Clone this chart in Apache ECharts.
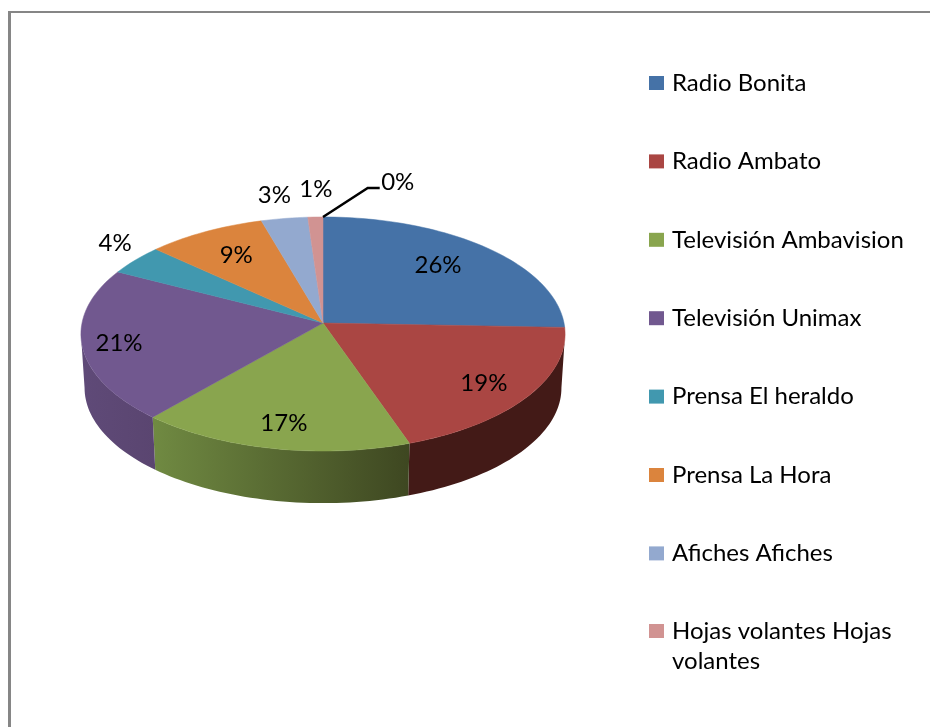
<!DOCTYPE html>
<html>
<head>
<meta charset="utf-8">
<title>Medios</title>
<style>
    html, body { margin: 0; padding: 0; background: #fff; }
    #main { width: 930px; height: 727px; }
</style>
<script src="https://cdn.jsdelivr.net/npm/echarts@6/dist/echarts.min.js"></script>
</head>
<body>
<div id="main"></div>
<script>
const categories = ['Radio Bonita', 'Radio Ambato', 'Televisión Ambavision', 'Televisión Unimax',
    'Prensa El heraldo', 'Prensa La Hora', 'Afiches Afiches', 'Hojas volantes Hojas volantes'];
// read from the slice edges; the ninth slice has a 0% label but no legend row in the picture
const values = [25.6, 19.1, 16.7, 21.2, 4.2, 8.7, 3.4, 1.1, 0];

const topColors = ['#4572A7', '#AA4643', '#89A54E', '#71588F', '#4198AF', '#DB843D', '#93A9CF', '#D19392', '#B9CD96'];
const wallLeft = ['#2c4566', '#431a17', '#708a42', '#5f4a78', '#2a6273', '#8f5526', '#5f6e87', '#885f5f', '#78865f'];
const wallRight = ['#2c4566', '#431a17', '#3e4721', '#5a4570', '#2a6273', '#8f5526', '#5f6e87', '#885f5f', '#78865f'];

// label placement: distance from the centre (1 = rim), and turn from the slice middle in degrees
const labelRadius = [0.725, 0.806, 0.811, 0.85, 1.18, 0.728, 1.25, 1.297, 1.417];
const labelTurn = [-2.4, 1.3, -0.3, -0.7, 3.7, 0.3, -0.3, 0.5, 14.3];

const cx = 323, cy = 323, rx = 241, ry = 116;
const tilt = 0.094;       // near side of the disc looks bigger
const depth = 54, bottomScale = 0.985;
const visibleFrom = 95.4, visibleTo = 264.6;
const fontName = 'Lato';
const fontSize = 24;

const total = values.reduce((a, b) => a + b, 0);

// turn an angle (degrees clockwise from 12 o'clock) into a pixel on the tilted disc
const discPoint = (deg, r) => {
    const a = deg * Math.PI / 180;
    const u = Math.sin(a) * r, v = -Math.cos(a) * r;
    const w = 1 / (1 - tilt * v);
    return [cx + rx * u * w, cy + ry * v * w];
};

const arc = (from, to) => {
    const pts = [];
    const n = Math.max(2, Math.ceil((to - from) / 1.5));
    for (let i = 0; i <= n; i++) pts.push(discPoint(from + (to - from) * i / n, 1));
    return pts;
};

const sliceRender = (i) => (params, api) => {
    const value = api.value(0);
    const before = values.slice(0, i).reduce((a, b) => a + b, 0);
    const start = before / total * 360;
    const end = start + value / total * 360;
    const mid = (start + end) / 2;
    const children = [];

    // side wall, only the part facing the viewer
    const a = Math.max(start, visibleFrom), b = Math.min(end, visibleTo);
    if (b > a) {
        const upper = arc(a, b);
        const lower = upper.map(p => [
            cx + (p[0] - cx) * bottomScale,
            cy + (p[1] - cy) * bottomScale + depth
        ]).reverse();
        children.push({
            type: 'polygon',
            z2: 1,
            shape: {points: upper.concat(lower)},
            style: {
                fill: new echarts.graphic.LinearGradient(0, 0, 1, 0, [
                    {offset: 0, color: wallLeft[i]},
                    {offset: 1, color: wallRight[i]}
                ])
            }
        });
    }

    // top face
    if (value > 0) {
        children.push({
            type: 'polygon',
            z2: 2,
            shape: {points: [[cx, cy]].concat(arc(start, end))},
            style: {fill: topColors[i], stroke: topColors[i], lineWidth: 0.5}
        });
    }

    const at = discPoint(mid + labelTurn[i], labelRadius[i]);
    children.push({
        type: 'text',
        z2: 5,
        x: at[0],
        y: at[1],
        style: {
            text: Math.round(value / total * 100) + '%',
            fontFamily: fontName,
            fontSize: fontSize,
            fill: '#000',
            align: 'center',
            verticalAlign: 'middle'
        }
    });

    // leader line for the slice too thin to carry its label
    if (value === 0) {
        const rim = discPoint(start, 1);
        children.push({
            type: 'polyline',
            z2: 5,
            shape: {points: [rim, [at[0] - 30, at[1] + 6], [at[0] - 18, at[1] + 6]]},
            style: {stroke: '#000', lineWidth: 2.5, fill: null}
        });
    }
    return {type: 'group', children: children};
};

const series = values.map((v, i) => ({
    type: 'custom',
    name: categories[i] || '',
    coordinateSystem: 'none',
    silent: true,
    animation: false,
    itemStyle: {color: topColors[i]},
    renderItem: sliceRender(i),
    data: [v]
}));

const legendText = {fontFamily: fontName, fontSize: fontSize, color: '#000', padding: [0, 0, 0, 3]};

let chart = echarts.init(document.getElementById('main'));
chart.setOption({
    backgroundColor: '#fff',
    animation: false,
    legend: [
        {
            orient: 'vertical',
            left: 649,
            top: 71,
            padding: 0,
            itemWidth: 15,
            itemHeight: 14,
            itemGap: 54.4,
            icon: 'rect',
            selectedMode: false,
            data: categories.slice(0, 7),
            textStyle: {...legendText, lineHeight: 24}
        },
        {
            // swatch sits on the first text line: the leading blank line centres it there
            orient: 'vertical',
            left: 649,
            top: 586,
            padding: 0,
            itemWidth: 15,
            itemHeight: 14,
            icon: 'rect',
            selectedMode: false,
            data: categories.slice(7),
            formatter: () => '\nHojas volantes Hojas\nvolantes',
            textStyle: {...legendText, lineHeight: 30}
        }
    ],
    graphic: [
        {type: 'rect', shape: {x: 8, y: 11, width: 3, height: 716}, style: {fill: '#868686'}},
        {type: 'rect', shape: {x: 8, y: 11, width: 922, height: 2}, style: {fill: '#868686'}}
    ],
    series: series
});
</script>
</body>
</html>
